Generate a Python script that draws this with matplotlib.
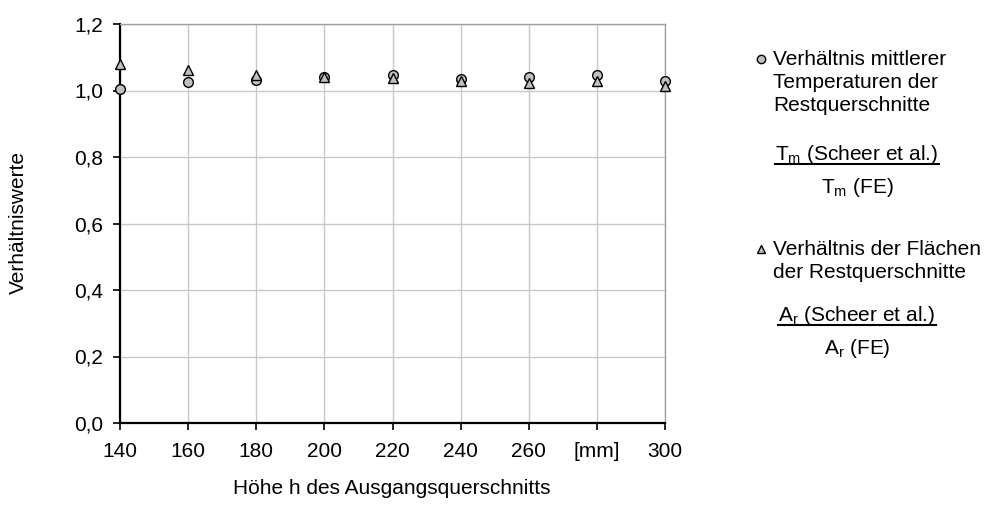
import matplotlib
matplotlib.use("Agg")
import matplotlib.pyplot as plt
from matplotlib.lines import Line2D

plt.rcParams["font.family"] = ["Liberation Sans", "DejaVu Sans"]
plt.rcParams["mathtext.fontset"] = "custom"
plt.rcParams["mathtext.rm"] = "Liberation Sans"
plt.rcParams["mathtext.it"] = "Liberation Sans"

# Höhe h des Ausgangsquerschnitts [mm]
hoehe = [140, 160, 180, 200, 220, 240, 260, 280, 300]
# Tm (Scheer et al.) / Tm (FE)
verh_temp = [1.005, 1.025, 1.032, 1.042, 1.046, 1.035, 1.040, 1.048, 1.030]
# Ar (Scheer et al.) / Ar (FE)
verh_flaeche = [1.080, 1.062, 1.047, 1.040, 1.037, 1.029, 1.023, 1.028, 1.015]

x_ticks = [140, 160, 180, 200, 220, 240, 260, 280, 300]
x_ticklabels = ["140", "160", "180", "200", "220", "240", "260", "[mm]", "300"]
y_ticks = [0.0, 0.2, 0.4, 0.6, 0.8, 1.0, 1.2]
y_ticklabels = ["0,0", "0,2", "0,4", "0,6", "0,8", "1,0", "1,2"]

W, H = 986, 523
fs = 15
grau = "#c0c0c0"

fig = plt.figure(figsize=(W / 100, H / 100), dpi=100)
ax = fig.add_axes([120 / W, 1 - 423 / H, 545 / W, 399 / H])

ax.plot(hoehe, verh_temp, linestyle="", marker="o", markersize=7,
        markerfacecolor=grau, markeredgecolor="black", markeredgewidth=1,
        clip_on=False, zorder=4)
ax.plot(hoehe, verh_flaeche, linestyle="", marker="^", markersize=7.5,
        markerfacecolor=grau, markeredgecolor="black", markeredgewidth=1,
        clip_on=False, zorder=4)

ax.set_xlim(140, 300)
ax.set_ylim(0, 1.2)
ax.set_xticks(x_ticks)
ax.set_xticklabels(x_ticklabels)
ax.set_yticks(y_ticks)
ax.set_yticklabels(y_ticklabels)
ax.tick_params(axis="both", labelsize=fs, direction="out", length=5, width=1.2, color="black")
ax.tick_params(axis="x", pad=9)
ax.tick_params(axis="y", pad=7)

ax.grid(True, color="#c8c8c8", linewidth=1)
ax.set_axisbelow(True)
for side in ["left", "bottom"]:
    ax.spines[side].set_color("black")
    ax.spines[side].set_linewidth(1.6)
for side in ["top", "right"]:
    ax.spines[side].set_color("#a0a0a0")
    ax.spines[side].set_linewidth(1)

fig.text(18 / W, 1 - 223 / H, "Verhältniswerte", rotation=90, fontsize=fs,
         ha="center", va="center")
fig.text(392 / W, 1 - 488 / H, "Höhe h des Ausgangsquerschnitts", fontsize=fs,
         ha="center", va="center")


def px(x, y):
    return x / W, 1 - y / H


# Legende rechts neben dem Diagramm
text_x = 773
marker_x = 761
bruch_x = 857
zeilen = [
    (65, "Verhältnis mittlerer"),
    (88, "Temperaturen der"),
    (111, "Restquerschnitte"),
    (255, "Verhältnis der Flächen"),
    (278, "der Restquerschnitte"),
]
for y, s in zeilen:
    fig.text(*px(text_x, y), s, fontsize=fs, ha="left", va="baseline")

fig.add_artist(Line2D([marker_x / W], [1 - 59 / H], marker="o", markersize=6,
                      markerfacecolor=grau, markeredgecolor="black",
                      markeredgewidth=1, transform=fig.transFigure))
fig.add_artist(Line2D([marker_x / W], [1 - 249 / H], marker="^", markersize=6,
                      markerfacecolor=grau, markeredgecolor="black",
                      markeredgewidth=1, transform=fig.transFigure))

brueche = [
    (160, 193, r"T$_\mathrm{m}$ (Scheer et al.)", r"T$_\mathrm{m}$ (FE)"),
    (321, 354, r"A$_\mathrm{r}$ (Scheer et al.)", r"A$_\mathrm{r}$ (FE)"),
]
renderer = fig.canvas.get_renderer()
for y_z, y_n, zaehler, nenner in brueche:
    tz = fig.text(*px(bruch_x, y_z), zaehler, fontsize=fs, ha="center", va="baseline")
    fig.text(*px(bruch_x, y_n), nenner, fontsize=fs, ha="center", va="baseline")
    bb = tz.get_window_extent(renderer)
    yl = 1 - (y_z + 4) / H
    fig.add_artist(Line2D([bb.x0 / W, bb.x1 / W], [yl, yl], color="black",
                          linewidth=1.5, transform=fig.transFigure))

fig.savefig("out.png", dpi=100)
